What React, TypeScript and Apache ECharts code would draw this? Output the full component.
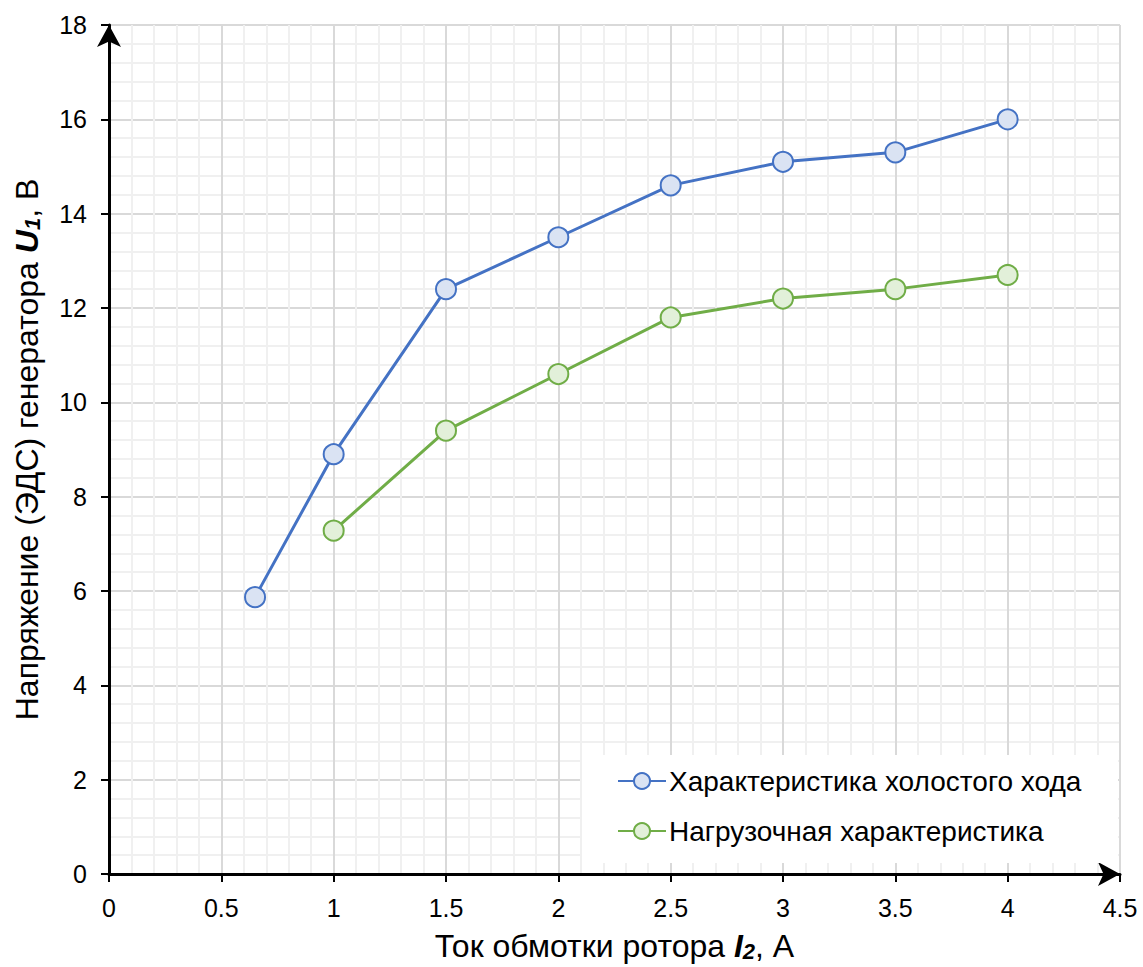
import React, { useEffect, useRef } from 'react';
import * as echarts from 'echarts';

const seriesNames = ['Характеристика холостого хода', 'Нагрузочная характеристика'];
const xNoLoad = [0.65, 1, 1.5, 2, 2.5, 3, 3.5, 4];
const yNoLoad = [5.87, 8.9, 12.4, 13.5, 14.6, 15.1, 15.3, 16.0];
const xLoad = [1, 1.5, 2, 2.5, 3, 3.5, 4];
const yLoad = [7.28, 9.4, 10.6, 11.8, 12.2, 12.4, 12.7];

const FONT = '"Liberation Sans", Arial, sans-serif';

export default function App() {
  const ref = useRef<HTMLDivElement>(null);
  useEffect(() => {
    if (!ref.current) return;
    const chart = echarts.init(ref.current, null, { renderer: 'svg' });
    const axisCommon = {
      type: 'value' as const,
      axisLine: {
        show: true,
        onZero: false,
        lineStyle: { color: '#000', width: 3 },
        symbol: ['none', 'arrow'],
        symbolSize: [18, 22],
        symbolOffset: [0, 0],
      },
      axisTick: { show: true, length: 8, lineStyle: { color: '#000', width: 2 } },
      minorTick: { show: false, splitNumber: 5 },
      splitLine: { show: true, lineStyle: { color: '#d9d9d9', width: 2 } },
      minorSplitLine: { show: true, lineStyle: { color: '#f0f0f0', width: 2 } },
      axisLabel: { color: '#000', fontSize: 25, fontFamily: FONT, showMaxLabel: true, showMinLabel: true },
      nameLocation: 'middle' as const,
    };
    const titleRich = {
      n: { fontSize: 32, color: '#000', fontFamily: FONT },
      b: { fontSize: 32, color: '#000', fontFamily: FONT, fontWeight: 'bold', fontStyle: 'italic' },
      s: { fontSize: 22, color: '#000', fontFamily: FONT, fontWeight: 'bold', fontStyle: 'italic', padding: [10, 0, 0, 0] },
    };
    const option: any = {
      animation: false,
      textStyle: { fontFamily: FONT },
      grid: { left: 109, right: 23, top: 25, bottom: 92, containLabel: false },
      xAxis: {
        ...axisCommon,
        min: 0,
        max: 4.5,
        interval: 0.5,
        axisLabel: { ...axisCommon.axisLabel, margin: 21 },
        name: '{n|Ток обмотки ротора }{b|I}{s|2}{n|, А}',
        nameGap: 56,
        nameTextStyle: { rich: titleRich },
      },
      yAxis: {
        ...axisCommon,
        min: 0,
        max: 18,
        interval: 2,
        axisLabel: { ...axisCommon.axisLabel, margin: 22 },
        name: '{n|Напряжение (ЭДС) генератора }{b|U}{s|1}{n|, В}',
        nameGap: 66,
        nameRotate: 90,
        nameTextStyle: { rich: titleRich },
      },
      graphic: [
        {
          type: 'rect',
          z: 3,
          shape: { x: 582, y: 755, width: 536, height: 108 },
          style: { fill: '#fff' },
        },
      ],
      legend: {
        orient: 'vertical',
        left: 617,
        top: 767,
        itemWidth: 48,
        itemHeight: 20,
        itemGap: 22,
        padding: 0,
        textStyle: { fontSize: 28, color: '#000', fontFamily: FONT, padding: [0, 0, 0, -2] },
        data: seriesNames,
      },
      series: [
        {
          name: seriesNames[0],
          type: 'line',
          data: xNoLoad.map((x, i) => [x, yNoLoad[i]]),
          symbol: 'circle',
          symbolSize: 20,
          lineStyle: { color: '#4472C4', width: 3 },
          itemStyle: { color: '#DAE3F3', borderColor: '#4472C4', borderWidth: 2 },
          z: 4,
        },
        {
          name: seriesNames[1],
          type: 'line',
          data: xLoad.map((x, i) => [x, yLoad[i]]),
          symbol: 'circle',
          symbolSize: 20,
          lineStyle: { color: '#70AD47', width: 3 },
          itemStyle: { color: '#E2F0D9', borderColor: '#70AD47', borderWidth: 2 },
          z: 4,
        },
      ],
    };
    chart.setOption(option);
    return () => chart.dispose();
  }, []);
  return <div ref={ref} style={{ width: 1143, height: 967, position: 'absolute', left: 0, top: 0 }} />;
}
